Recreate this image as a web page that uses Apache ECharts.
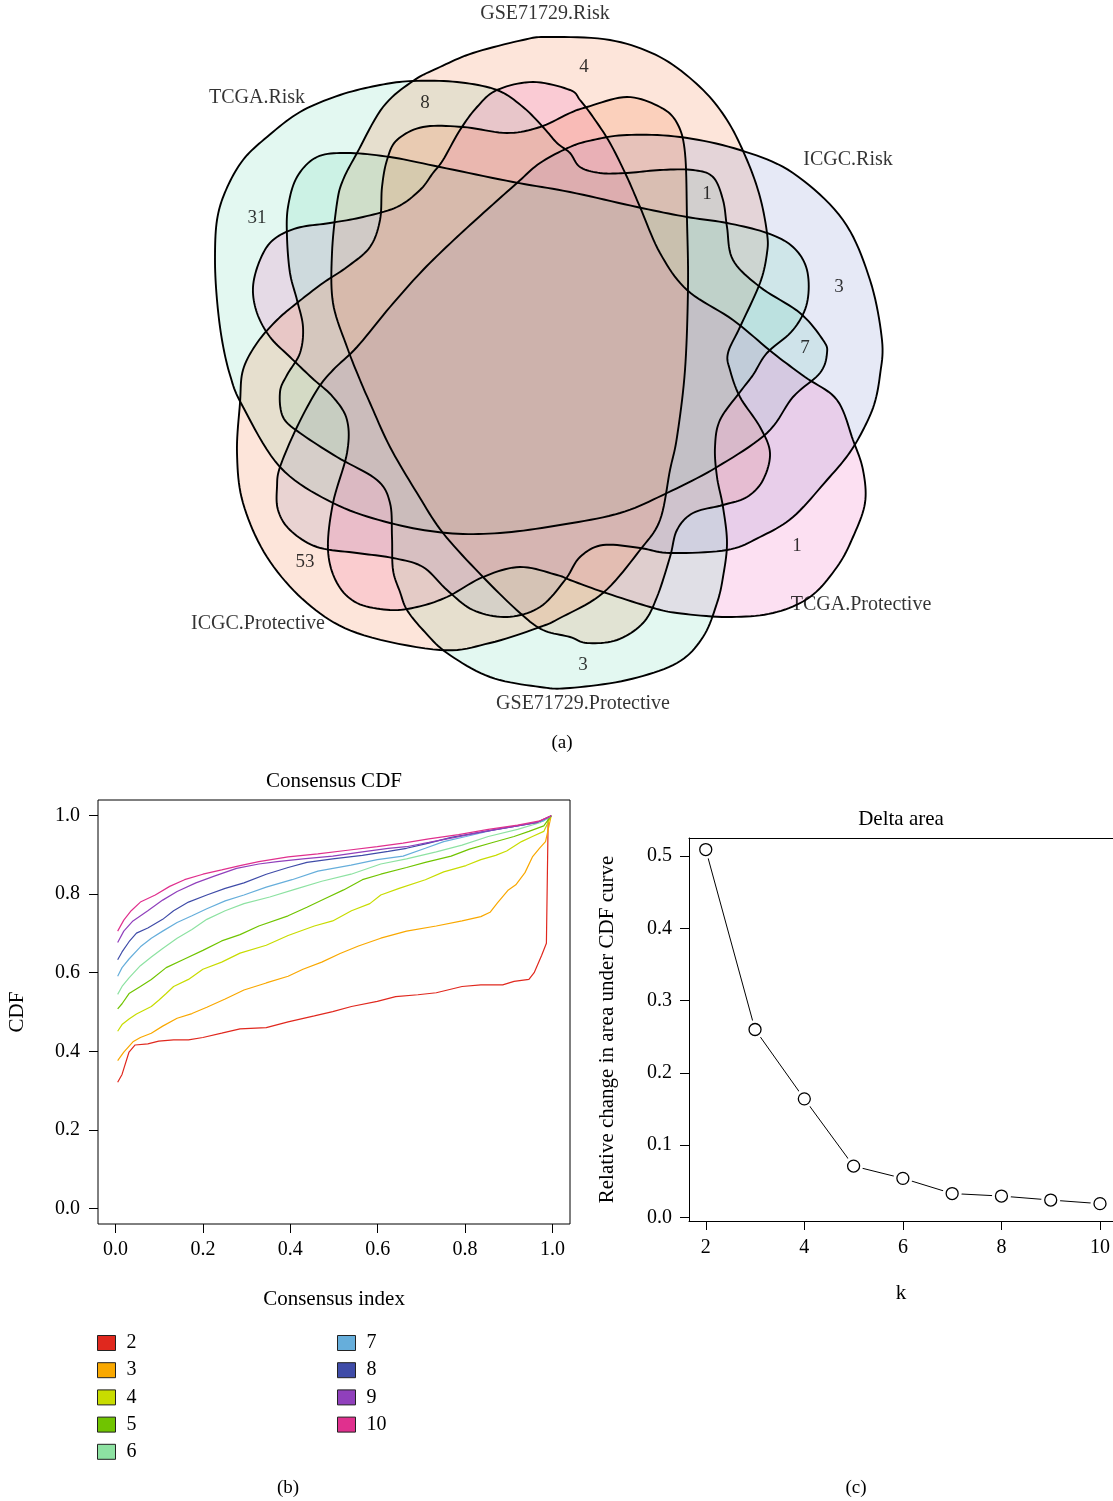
<!DOCTYPE html>
<html>
<head>
<meta charset="utf-8">
<script src="https://cdn.jsdelivr.net/npm/echarts@6/dist/echarts.min.js"></script>
<style>
  html, body { margin: 0; padding: 0; background: #fff; }
  #chart { width: 1113px; height: 1501px; }
</style>
</head>
<body>
<div id="chart"></div>
<script>
// ---------- (a) six-set Venn diagram ----------
const setNames = ['TCGA.Risk', 'GSE71729.Risk', 'ICGC.Risk', 'TCGA.Protective', 'GSE71729.Protective', 'ICGC.Protective'];
const regionCounts = [31, 4, 3, 1, 3, 53, 8, 1, 7];

// outline of each set (diagram units), traced clockwise; smoothed with a closed spline
const outlineTcgaRisk = [[215,260],[217,220],[226,190],[243,160],[267,137],[300,112],[340,95],[380,85],[413,81],[457,82],[497,90],[523,107],[543,127],[557,143],[570,153],[580,167],[600,173],[627,173],[660,170],[693,170],[713,177],[723,200],[727,227],[733,260],[760,287],[800,313],[823,340],[827,353],[820,373],[793,397],[767,433],[717,467],[667,493],[620,513],[560,525],[500,533],[447,533],[390,523],[333,503],[280,467],[242,405],[230,375],[222,340],[217,300]];
const outlineGseRisk = [[548,37],[610,40],[660,57],[700,87],[727,120],[747,160],[760,197],[767,233],[767,253],[760,283],[740,327],[728,353],[730,370],[740,397],[760,427],[770,453],[763,480],[747,497],[723,505],[693,513],[677,530],[670,557],[657,597],[643,623],[617,640],[587,643],[570,637],[543,630],[520,613],[483,577],[443,533],[417,493],[390,447],[370,403],[360,380],[347,347],[333,303],[332,253],[337,203],[343,180],[357,153],[383,107],[413,81],[440,67],[473,53],[523,40]];
const outlineIcgcRisk = [[627,135],[680,137],[740,150],[793,173],[843,220],[870,280],[882,340],[880,375],[874,405],[862,432],[848,455],[827,480],[793,517],[760,537],[727,550],[670,553],[640,548],[603,545],[580,557],[565,580],[540,607],[507,617],[473,610],[447,590],[423,567],[393,558],[357,553],[317,547],[290,530],[278,510],[277,487],[280,467],[297,427],[317,390],[333,370],[357,347],[390,307],[423,270],[457,237],[490,207],[517,183],[540,163],[570,147],[593,140]];
const outlineTcgaProt = [[497,90],[533,82],[570,90],[580,100],[593,117],[610,143],[627,177],[640,207],[660,253],[687,290],[733,320],[773,353],[805,377],[837,400],[853,440],[863,470],[865,503],[853,537],[837,567],[810,597],[773,613],[727,617],[677,613],[650,607],[603,592],[570,580],[557,575],[520,567],[483,577],[447,597],[417,607],[390,610],[357,603],[337,583],[328,550],[333,503],[347,453],[347,420],[333,397],[312,378],[290,357],[270,337],[257,313],[253,287],[260,260],[273,240],[297,228],[330,223],[363,217],[397,207],[420,190],[433,173],[443,160],[460,130],[477,107]];
const outlineGseProt = [[347,153],[390,157],[440,167],[513,182],[570,192],[637,207],[687,217],[727,223],[767,233],[793,247],[807,270],[807,303],[793,330],[767,353],[753,375],[740,392],[720,420],[715,447],[717,477],[723,507],[727,543],[723,577],[717,603],[703,637],[677,663],[627,680],[570,688],[540,687],[490,677],[447,653],[423,630],[407,610],[400,592],[393,570],[392,537],[390,503],[377,480],[337,457],[300,433],[283,417],[280,392],[287,375],[300,353],[303,327],[297,300],[290,273],[287,237],[288,207],[297,177],[317,157]];
const outlineIcgcProt = [[587,107],[627,97],[660,107],[677,123],[685,153],[687,220],[688,287],[685,370],[677,437],[670,470],[660,520],[640,550],[603,593],[560,618],[540,627],[490,643],[440,650],[357,633],[307,603],[267,557],[243,503],[237,453],[240,403],[243,370],[257,343],[277,320],[297,303],[323,283],[347,267],[370,247],[380,220],[382,187],[387,160],[397,140],[423,127],[463,127],[507,133],[540,127],[570,113]];
const setOutlines = [outlineTcgaRisk, outlineGseRisk, outlineIcgcRisk, outlineTcgaProt, outlineGseProt, outlineIcgcProt];

// placement of labels inside the diagram
const setNamePos = [[257,98],[545,14],[848,160],[861,605],[583,704],[258,624]];
const regionPos = [[257,218],[584,67],[839,287],[797,546],[583,665],[305,562],[425,103],[707,194],[805,348]];
const setColors = ['#73DCB9', '#F57D46', '#8291D2', '#F064BE', '#73DCB9', '#F57D46'];

// ---------- (b) consensus CDF ----------
const cdfK = ['2', '3', '4', '5', '6', '7', '8', '9', '10'];
const cdfColors = ['#E0281E', '#F9A800', '#C8DC00', '#70C400', '#8DE2A2', '#66AEDB', '#3F4CA8', '#9040BC', '#E0308E'];
const cdf2 = [[0.005,0.321],[0.015,0.341],[0.031,0.398],[0.045,0.416],[0.074,0.419],[0.099,0.426],[0.133,0.429],[0.167,0.429],[0.2,0.435],[0.243,0.446],[0.285,0.457],[0.345,0.46],[0.395,0.475],[0.455,0.49],[0.497,0.501],[0.54,0.514],[0.599,0.527],[0.641,0.539],[0.692,0.544],[0.734,0.549],[0.793,0.565],[0.836,0.569],[0.886,0.569],[0.912,0.578],[0.946,0.583],[0.958,0.6],[0.975,0.644],[0.986,0.675],[0.99,0.99],[0.997,1.0]];
const cdf3 = [[0.005,0.376],[0.019,0.398],[0.04,0.424],[0.057,0.435],[0.082,0.446],[0.108,0.464],[0.141,0.484],[0.175,0.496],[0.209,0.512],[0.251,0.533],[0.294,0.556],[0.345,0.574],[0.395,0.591],[0.429,0.609],[0.472,0.627],[0.514,0.649],[0.556,0.668],[0.607,0.688],[0.666,0.706],[0.734,0.719],[0.793,0.732],[0.836,0.743],[0.857,0.754],[0.874,0.778],[0.899,0.811],[0.916,0.824],[0.937,0.855],[0.954,0.895],[0.971,0.918],[0.984,0.934],[0.997,1.0]];
const cdf4 = [[0.005,0.451],[0.015,0.468],[0.031,0.482],[0.048,0.495],[0.082,0.514],[0.099,0.53],[0.116,0.547],[0.133,0.565],[0.167,0.583],[0.2,0.609],[0.243,0.627],[0.285,0.65],[0.345,0.67],[0.395,0.695],[0.455,0.719],[0.497,0.732],[0.54,0.758],[0.582,0.776],[0.607,0.798],[0.649,0.815],[0.709,0.837],[0.751,0.857],[0.802,0.873],[0.836,0.888],[0.87,0.899],[0.895,0.91],[0.929,0.934],[0.954,0.947],[0.98,0.96],[0.997,1.0]];
const cdf5 = [[0.005,0.508],[0.015,0.521],[0.031,0.547],[0.057,0.565],[0.082,0.583],[0.116,0.613],[0.158,0.635],[0.2,0.657],[0.243,0.681],[0.285,0.697],[0.328,0.719],[0.395,0.745],[0.438,0.767],[0.48,0.789],[0.522,0.811],[0.565,0.837],[0.607,0.851],[0.666,0.868],[0.709,0.881],[0.768,0.897],[0.81,0.915],[0.861,0.931],[0.912,0.947],[0.946,0.96],[0.98,0.974],[0.997,1.0]];
const cdf6 = [[0.005,0.545],[0.015,0.565],[0.031,0.587],[0.057,0.618],[0.082,0.64],[0.108,0.662],[0.141,0.688],[0.175,0.71],[0.209,0.736],[0.251,0.758],[0.294,0.776],[0.353,0.793],[0.412,0.813],[0.472,0.833],[0.539,0.851],[0.607,0.877],[0.666,0.89],[0.734,0.908],[0.793,0.925],[0.853,0.947],[0.92,0.965],[0.971,0.982],[0.997,1.0]];
const cdf7 = [[0.005,0.591],[0.015,0.613],[0.031,0.635],[0.057,0.666],[0.082,0.688],[0.108,0.706],[0.141,0.728],[0.175,0.745],[0.209,0.763],[0.251,0.783],[0.294,0.798],[0.345,0.818],[0.404,0.837],[0.463,0.859],[0.539,0.874],[0.599,0.888],[0.658,0.897],[0.709,0.917],[0.751,0.934],[0.802,0.947],[0.87,0.965],[0.937,0.978],[0.98,0.987],[0.997,1.0]];
const cdf8 = [[0.005,0.633],[0.015,0.653],[0.031,0.679],[0.048,0.701],[0.074,0.714],[0.108,0.736],[0.133,0.758],[0.167,0.78],[0.209,0.798],[0.251,0.815],[0.294,0.829],[0.345,0.851],[0.395,0.868],[0.438,0.881],[0.497,0.89],[0.565,0.899],[0.624,0.909],[0.666,0.917],[0.717,0.93],[0.768,0.945],[0.836,0.958],[0.903,0.971],[0.963,0.982],[0.997,1.0]];
const cdf9 = [[0.005,0.677],[0.019,0.706],[0.04,0.732],[0.074,0.758],[0.108,0.785],[0.141,0.807],[0.184,0.829],[0.226,0.846],[0.277,0.866],[0.328,0.877],[0.37,0.883],[0.429,0.89],[0.497,0.897],[0.565,0.908],[0.624,0.917],[0.666,0.921],[0.717,0.932],[0.777,0.945],[0.836,0.958],[0.903,0.971],[0.963,0.982],[0.997,1.0]];
const cdf10 = [[0.005,0.706],[0.019,0.734],[0.036,0.758],[0.057,0.78],[0.091,0.798],[0.124,0.82],[0.158,0.837],[0.2,0.851],[0.243,0.862],[0.285,0.873],[0.328,0.883],[0.395,0.895],[0.463,0.903],[0.531,0.912],[0.599,0.921],[0.658,0.93],[0.717,0.941],[0.785,0.952],[0.853,0.965],[0.92,0.976],[0.971,0.987],[0.997,1.0]];
const cdfCurves = [cdf2, cdf3, cdf4, cdf5, cdf6, cdf7, cdf8, cdf9, cdf10];
const cdfTicks = [0, 0.2, 0.4, 0.6, 0.8, 1.0];

// ---------- (c) delta area ----------
const deltaK = [2, 3, 4, 5, 6, 7, 8, 9, 10];
const deltaArea = [0.509, 0.26, 0.164, 0.071, 0.054, 0.033, 0.0295, 0.024, 0.019];
const deltaXTicks = [2, 4, 6, 8, 10];
const deltaYTicks = [0, 0.1, 0.2, 0.3, 0.4, 0.5];

const FONT = "'Liberation Serif', 'Times New Roman', serif";
const INK = '#000';

// closed Catmull-Rom spline through the traced outline points
function closedSpline(pts, steps) {
  const n = pts.length, out = [];
  for (let i = 0; i < n; i++) {
    const p0 = pts[(i - 1 + n) % n], p1 = pts[i], p2 = pts[(i + 1) % n], p3 = pts[(i + 2) % n];
    for (let s = 0; s < steps; s++) {
      const t = s / steps, t2 = t * t, t3 = t2 * t;
      const f = k => 0.5 * (2 * p1[k] + (-p0[k] + p2[k]) * t + (2 * p0[k] - 5 * p1[k] + 4 * p2[k] - p3[k]) * t2 + (-p0[k] + 3 * p1[k] - 3 * p2[k] + p3[k]) * t3);
      out.push([f(0), f(1)]);
    }
  }
  return out;
}
const smoothOutlines = setOutlines.map(o => closedSpline(o, 10));

function shapeRenderer(filled) {
  return function (params, api) {
    const pts = smoothOutlines[params.dataIndex].map(p => api.coord(p));
    return {
      type: 'polygon',
      shape: { points: pts },
      style: filled
        ? { fill: setColors[params.dataIndex], opacity: 0.2, stroke: null }
        : { fill: null, stroke: '#000', lineWidth: 1.9 }
    };
  };
}

const axisText = { fontFamily: FONT, fontSize: 20, color: INK };
const nameText = { fontFamily: FONT, fontSize: 21, color: INK };
const hiddenLine = { show: false, onZero: false };
const frameLine = { show: true, onZero: false, lineStyle: { color: '#000', width: 1 } };

const chart = echarts.init(document.getElementById('chart'), null, { renderer: 'canvas' });

const cdfSeries = cdfCurves.map((d, i) => ({
  name: cdfK[i],
  type: 'line',
  xAxisIndex: 0, yAxisIndex: 0,
  data: d,
  showSymbol: false,
  symbol: 'none',
  lineStyle: { color: cdfColors[i], width: 1.2 },
  itemStyle: { color: cdfColors[i] },
  z: 3
}));

function legendBlock(names, left) {
  return {
    orient: 'vertical',
    left: left, top: 1333, padding: 0,
    itemWidth: 18, itemHeight: 15, itemGap: 7.2,
    icon: 'rect',
    selectedMode: false,
    data: names,
    itemStyle: { borderColor: '#222', borderWidth: 1 },
    textStyle: { fontFamily: FONT, fontSize: 20, color: INK, padding: [0, 0, 0, 6] }
  };
}

const deltaPoints = deltaK.map((k, i) => [k, deltaArea[i]]);

const option = {
  animation: false,
  backgroundColor: '#fff',
  grid: [
    { left: 98, top: 800, width: 472, height: 424, show: true, borderColor: '#000', borderWidth: 1, backgroundColor: 'transparent' },
    // panel (c) runs past the right edge of the page, so only three sides of its frame are drawn
    { left: 689, top: 838, width: 424, height: 383, show: false },
    { left: 0, top: 0, width: 1113, height: 760, show: false }
  ],
  xAxis: [
    {
      gridIndex: 0, type: 'value', min: -0.04, max: 1.04,
      axisLine: hiddenLine, splitLine: { show: false },
      axisTick: { show: true, length: 9, customValues: cdfTicks, lineStyle: { color: '#000' } },
      axisLabel: { customValues: cdfTicks, formatter: v => v.toFixed(1), margin: 16, ...axisText },
      name: 'Consensus index', nameLocation: 'middle', nameGap: 65, nameTextStyle: nameText
    },
    {
      gridIndex: 1, type: 'value', min: 1.66, max: 10.26,
      axisLine: frameLine, splitLine: { show: false },
      axisTick: { show: true, length: 9, customValues: deltaXTicks, lineStyle: { color: '#000' } },
      axisLabel: { customValues: deltaXTicks, formatter: v => String(v), margin: 17, ...axisText },
      name: 'k', nameLocation: 'middle', nameGap: 62, nameTextStyle: nameText
    },
    { gridIndex: 2, type: 'value', min: 0, max: 1113, show: false },
    {
      gridIndex: 1, type: 'value', position: 'top', min: 1.66, max: 10.26,
      axisLine: frameLine, axisTick: { show: false }, axisLabel: { show: false }, splitLine: { show: false }
    }
  ],
  yAxis: [
    {
      gridIndex: 0, type: 'value', min: -0.04, max: 1.04,
      axisLine: hiddenLine, splitLine: { show: false },
      axisTick: { show: true, length: 9, customValues: cdfTicks, lineStyle: { color: '#000' } },
      axisLabel: { customValues: cdfTicks, formatter: v => v.toFixed(1), margin: 18, ...axisText },
      name: 'CDF', nameLocation: 'middle', nameGap: 70, nameRotate: 90, nameTextStyle: nameText
    },
    {
      gridIndex: 1, type: 'value', min: -0.005, max: 0.525,
      axisLine: frameLine, splitLine: { show: false },
      axisTick: { show: true, length: 9, customValues: deltaYTicks, lineStyle: { color: '#000' } },
      axisLabel: { customValues: deltaYTicks, formatter: v => v.toFixed(1), margin: 17, ...axisText },
      name: 'Relative change in area under CDF curve', nameLocation: 'middle', nameGap: 71, nameRotate: 90, nameTextStyle: nameText
    },
    { gridIndex: 2, type: 'value', min: 0, max: 760, inverse: true, show: false }
  ],
  legend: [
    legendBlock(cdfK.slice(0, 5), 97),
    legendBlock(cdfK.slice(5), 337)
  ],
  graphic: [
    { type: 'text', x: 334, y: 781, style: { text: 'Consensus CDF', fontFamily: FONT, fontSize: 21, fill: INK, align: 'center', verticalAlign: 'middle' } },
    { type: 'text', x: 901, y: 819, style: { text: 'Delta area', fontFamily: FONT, fontSize: 21, fill: INK, align: 'center', verticalAlign: 'middle' } },
    { type: 'text', x: 562, y: 743, style: { text: '(a)', fontFamily: FONT, fontSize: 19, fill: INK, align: 'center', verticalAlign: 'middle' } },
    { type: 'text', x: 288, y: 1488, style: { text: '(b)', fontFamily: FONT, fontSize: 19, fill: INK, align: 'center', verticalAlign: 'middle' } },
    { type: 'text', x: 856, y: 1488, style: { text: '(c)', fontFamily: FONT, fontSize: 19, fill: INK, align: 'center', verticalAlign: 'middle' } }
  ],
  series: [
    {
      type: 'custom', name: 'venn-fill', xAxisIndex: 2, yAxisIndex: 2,
      data: setNames.map((n, i) => i), renderItem: shapeRenderer(true), silent: true, z: 1
    },
    {
      type: 'custom', name: 'venn-outline', xAxisIndex: 2, yAxisIndex: 2,
      data: setNames.map((n, i) => i), renderItem: shapeRenderer(false), silent: true, z: 2
    },
    {
      type: 'scatter', name: 'set-names', xAxisIndex: 2, yAxisIndex: 2, symbolSize: 0, silent: true, z: 4,
      data: setNames.map((n, i) => ({ value: setNamePos[i], label: { formatter: n } })),
      label: { show: true, position: 'inside', fontFamily: FONT, fontSize: 20, color: INK }
    },
    {
      type: 'scatter', name: 'region-counts', xAxisIndex: 2, yAxisIndex: 2, symbolSize: 0, silent: true, z: 4,
      data: regionCounts.map((c, i) => ({ value: regionPos[i], label: { formatter: String(c) } })),
      label: { show: true, position: 'inside', fontFamily: FONT, fontSize: 19, color: INK }
    },
    ...cdfSeries,
    // connecting line, broken around each point by a white halo, then the open circles
    {
      type: 'line', name: 'delta-line', xAxisIndex: 1, yAxisIndex: 1,
      data: deltaPoints, symbol: 'none', showSymbol: false,
      lineStyle: { color: '#000', width: 1 }, z: 2
    },
    {
      type: 'scatter', name: 'delta-gap', xAxisIndex: 1, yAxisIndex: 1,
      data: deltaPoints, symbol: 'circle', symbolSize: 19,
      itemStyle: { color: '#fff', borderWidth: 0, opacity: 1 }, silent: true, z: 3
    },
    {
      type: 'scatter', name: 'delta', xAxisIndex: 1, yAxisIndex: 1,
      data: deltaPoints, symbol: 'circle', symbolSize: 12,
      itemStyle: { color: '#fff', borderColor: '#000', borderWidth: 1.3, opacity: 1 }, z: 4
    }
  ]
};

chart.setOption(option);
</script>
</body>
</html>
